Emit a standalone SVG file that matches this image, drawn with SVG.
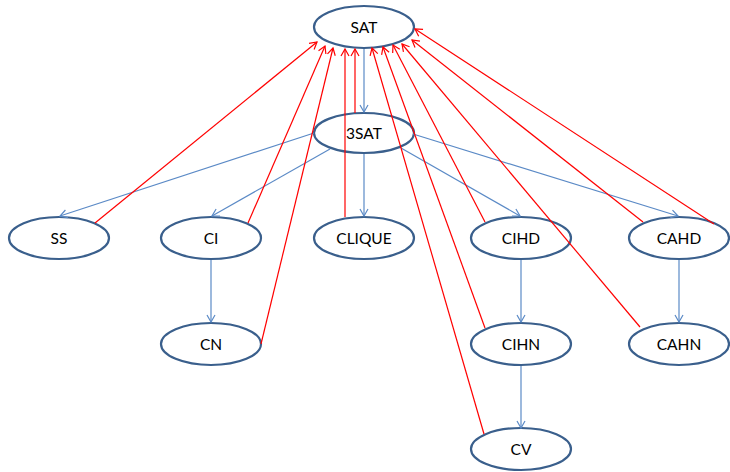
<svg xmlns="http://www.w3.org/2000/svg" width="730" height="472" viewBox="0 0 730 472">
<style>
.node ellipse{fill:#fff;stroke:#3A5F8C;stroke-width:2.2}
.node text{font-family:Lato,"Liberation Sans",sans-serif;font-size:15.5px;fill:#000;text-anchor:middle;dominant-baseline:central}
.b{stroke:#5B8AC6;stroke-width:1.2;fill:none;marker-end:url(#ab)}
.r{stroke:#FF0000;stroke-width:1.2;fill:none;marker-end:url(#ar)}
</style>
<defs>
<marker id="ab" markerUnits="userSpaceOnUse" markerWidth="12" markerHeight="12" refX="8" refY="5" orient="auto">
<path d="M1,1 L8,5 L1,9" fill="none" stroke="#5B8AC6" stroke-width="1.2"/>
</marker>
<marker id="ar" markerUnits="userSpaceOnUse" markerWidth="12" markerHeight="12" refX="8" refY="5" orient="auto">
<path d="M1,1 L8,5 L1,9" fill="none" stroke="#FF0000" stroke-width="1.2"/>
</marker>
</defs>
<g id="SAT" class="node"><ellipse cx="364" cy="27" rx="50" ry="21"/><text x="364" y="27">SAT</text></g>
<g id="3SAT" class="node"><ellipse cx="364" cy="133" rx="50" ry="20"/><text x="364" y="133">3SAT</text></g>
<g id="SS" class="node"><ellipse cx="59" cy="238" rx="50" ry="21"/><text x="59" y="238">SS</text></g>
<g id="CI" class="node"><ellipse cx="211" cy="238" rx="50" ry="21"/><text x="211" y="238">CI</text></g>
<g id="CLIQUE" class="node"><ellipse cx="364" cy="238" rx="50" ry="21"/><text x="364" y="238">CLIQUE</text></g>
<g id="CIHD" class="node"><ellipse cx="521" cy="238" rx="50" ry="21"/><text x="521" y="238">CIHD</text></g>
<g id="CAHD" class="node"><ellipse cx="679" cy="238" rx="50" ry="21"/><text x="679" y="238">CAHD</text></g>
<g id="CN" class="node"><ellipse cx="211" cy="344" rx="50" ry="21"/><text x="211" y="344">CN</text></g>
<g id="CIHN" class="node"><ellipse cx="521" cy="344" rx="50" ry="21"/><text x="521" y="344">CIHN</text></g>
<g id="CAHN" class="node"><ellipse cx="679" cy="344" rx="50" ry="21"/><text x="679" y="344">CAHN</text></g>
<g id="CV" class="node"><ellipse cx="521" cy="449" rx="50" ry="21"/><text x="521" y="449">CV</text></g>
<g id="connectors">
<line class="b" x1="364" y1="49" x2="364" y2="112"/>
<line class="b" x1="314" y1="133" x2="60" y2="216"/>
<line class="b" x1="330" y1="149" x2="212" y2="216"/>
<line class="b" x1="364" y1="154" x2="364" y2="216"/>
<line class="b" x1="401" y1="148" x2="520" y2="216"/>
<line class="b" x1="413" y1="134" x2="678" y2="216"/>
<line class="b" x1="211" y1="260" x2="211" y2="322"/>
<line class="b" x1="521" y1="260" x2="521" y2="322"/>
<line class="b" x1="521" y1="366" x2="521" y2="428"/>
<line class="b" x1="679" y1="260" x2="679" y2="322"/>
<line class="r" x1="95" y1="223" x2="317" y2="42"/>
<line class="r" x1="248" y1="223" x2="325" y2="46"/>
<line class="r" x1="261" y1="344" x2="333" y2="48"/>
<line class="r" x1="345" y1="217" x2="345" y2="49"/>
<line class="r" x1="355" y1="113" x2="355" y2="49"/>
<line class="r" x1="484" y1="434" x2="372" y2="48"/>
<line class="r" x1="485" y1="328" x2="383" y2="47"/>
<line class="r" x1="485" y1="222" x2="393" y2="45"/>
<line class="r" x1="640" y1="327" x2="402" y2="44"/>
<line class="r" x1="643" y1="222" x2="412" y2="40"/>
<line class="r" x1="714" y1="224" x2="415" y2="29"/>
</g>
</svg>
